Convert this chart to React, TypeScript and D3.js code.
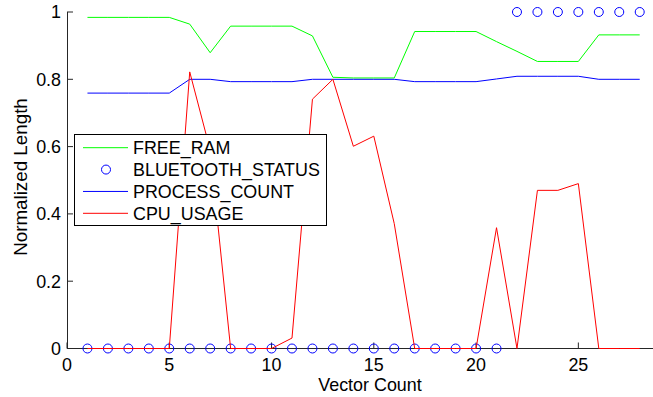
import * as d3 from 'd3';
import { useEffect, useRef } from 'react';

const vectorCount = [1, 2, 3, 4, 5, 6, 7, 8, 9, 10, 11, 12, 13, 14, 15, 16, 17, 18, 19, 20, 21, 22, 23, 24, 25, 26, 27, 28];
const freeRam = [0.984, 0.984, 0.984, 0.984, 0.984, 0.964, 0.879, 0.958, 0.958, 0.958, 0.958, 0.929, 0.806, 0.804, 0.804, 0.804, 0.942, 0.942, 0.942, 0.942, 0.912, 0.883, 0.853, 0.853, 0.853, 0.932, 0.932, 0.932];
const bluetoothStatus = [0, 0, 0, 0, 0, 0, 0, 0, 0, 0, 0, 0, 0, 0, 0, 0, 0, 0, 0, 0, 0, 1, 1, 1, 1, 1, 1, 1];
const processCount = [0.759, 0.759, 0.759, 0.759, 0.759, 0.8, 0.8, 0.793, 0.793, 0.793, 0.793, 0.8, 0.8, 0.8, 0.8, 0.8, 0.793, 0.793, 0.793, 0.793, 0.801, 0.809, 0.809, 0.809, 0.809, 0.8, 0.8, 0.8];
const cpuUsage = [0, 0, 0, 0, 0, 0.822, 0.59, 0, 0, 0, 0.031, 0.741, 0.8, 0.601, 0.631, 0.371, 0, 0, 0, 0, 0.359, 0, 0.47, 0.47, 0.49, 0, 0, 0];
const xTicks = [0, 5, 10, 15, 20, 25];
const yTicks = [0, 0.2, 0.4, 0.6, 0.8, 1];
const legendLabels = ['FREE_RAM', 'BLUETOOTH_STATUS', 'PROCESS_COUNT', 'CPU_USAGE'];

function App() {
    return <LineChart />;
}

const LineChart = () => {
    const svgRef = useRef<SVGSVGElement>(null);

    useEffect(() => {
        const w = 653;
        const h = 397;
        const font = '"Liberation Sans", Arial, sans-serif';
        const fs = 17.9;

        d3.select(svgRef.current).selectAll('*').remove();

        const svg = d3
            .select(svgRef.current)
            .attr('width', w)
            .attr('height', h)
            .style('font-family', font);

        const xScale = d3.scaleLinear().domain([0, 28.65]).range([67, 653]);
        const yScale = d3.scaleLinear().domain([0, 1]).range([348.5, 12]);

        // axes (MATLAB style: left + bottom, ticks pointing in)
        const axisColor = '#262626';
        svg.append('line')
            .attr('x1', xScale(0) + 0.5).attr('x2', xScale(0) + 0.5)
            .attr('y1', yScale(1)).attr('y2', yScale(0))
            .attr('stroke', axisColor);
        svg.append('line')
            .attr('x1', xScale(0)).attr('x2', w)
            .attr('y1', yScale(0)).attr('y2', yScale(0))
            .attr('stroke', axisColor);

        svg.selectAll('.ytick')
            .data(yTicks)
            .enter()
            .append('line')
            .attr('x1', xScale(0))
            .attr('x2', xScale(0) + 6)
            .attr('y1', (d) => yScale(d))
            .attr('y2', (d) => yScale(d))
            .attr('stroke', axisColor);

        svg.selectAll('.ylabel')
            .data(yTicks)
            .enter()
            .append('text')
            .attr('x', xScale(0) - 6)
            .attr('y', (d) => yScale(d))
            .attr('dy', '0.36em')
            .attr('text-anchor', 'end')
            .style('font-size', `${fs}px`)
            .text((d) => d3.format('~g')(d));

        svg.selectAll('.xtick')
            .data(xTicks)
            .enter()
            .append('line')
            .attr('x1', (d) => xScale(d))
            .attr('x2', (d) => xScale(d))
            .attr('y1', yScale(0))
            .attr('y2', yScale(0) - 6)
            .attr('stroke', axisColor);

        svg.selectAll('.xlabel')
            .data(xTicks)
            .enter()
            .append('text')
            .attr('x', (d) => xScale(d))
            .attr('y', 370.5)
            .attr('text-anchor', 'middle')
            .style('font-size', `${fs}px`)
            .text((d) => d);

        svg.append('text')
            .attr('x', 370)
            .attr('y', 390.5)
            .attr('text-anchor', 'middle')
            .style('font-size', `${fs}px`)
            .text('Vector Count');

        svg.append('text')
            .attr('transform', 'rotate(-90)')
            .attr('x', -177)
            .attr('y', 27)
            .attr('text-anchor', 'middle')
            .style('font-size', '18.8px')
            .text('Normalized Length');

        const line = d3
            .line<number>()
            .x((d, i) => xScale(vectorCount[i]))
            .y((d) => yScale(d));

        svg.append('path')
            .attr('d', line(freeRam))
            .attr('fill', 'none')
            .attr('stroke', '#00ff00')
            .attr('stroke-width', 1);

        svg.selectAll('.bt')
            .data(bluetoothStatus)
            .enter()
            .append('circle')
            .attr('cx', (d, i) => xScale(vectorCount[i]))
            .attr('cy', (d) => yScale(d))
            .attr('r', 4.5)
            .attr('fill', 'none')
            .attr('stroke', '#0000ff')
            .attr('stroke-width', 1);

        svg.append('path')
            .attr('d', line(processCount))
            .attr('fill', 'none')
            .attr('stroke', '#0000ff')
            .attr('stroke-width', 1);

        svg.append('path')
            .attr('d', line(cpuUsage))
            .attr('fill', 'none')
            .attr('stroke', '#ff0000')
            .attr('stroke-width', 1);

        // legend
        const legend = svg.append('g');
        legend.append('rect')
            .attr('x', 74.5)
            .attr('y', 134.5)
            .attr('width', 252)
            .attr('height', 91)
            .attr('fill', 'white')
            .attr('stroke', 'black');

        const colors = ['#00ff00', '#0000ff', '#0000ff', '#ff0000'];
        legendLabels.forEach((label, i) => {
            const cy = 147.7 + i * 21.87;
            if (i === 1) {
                legend.append('circle')
                    .attr('cx', 106)
                    .attr('cy', cy)
                    .attr('r', 4.5)
                    .attr('fill', 'none')
                    .attr('stroke', colors[i]);
            } else {
                legend.append('line')
                    .attr('x1', 83)
                    .attr('x2', 128)
                    .attr('y1', cy)
                    .attr('y2', cy)
                    .attr('stroke', colors[i]);
            }
            legend.append('text')
                .attr('x', 133)
                .attr('y', cy)
                .attr('dy', '0.36em')
                .style('font-size', `${fs}px`)
                .text(label);
        });
    }, []);

    return (
        <svg ref={svgRef} style={{ position: 'absolute', left: 0, top: 0 }}></svg>
    );
};

export default App;
